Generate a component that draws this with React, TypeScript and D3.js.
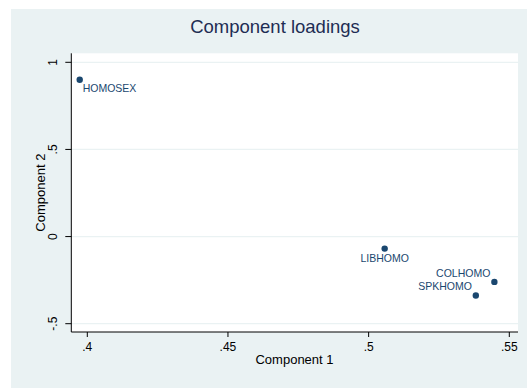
import React from "react";
import * as d3 from "d3";

// component loadings
const variables = ["HOMOSEX", "LIBHOMO", "COLHOMO", "SPKHOMO"];
const comp1 = [0.3973, 0.5057, 0.5447, 0.5381];
const comp2 = [0.9, -0.069, -0.26, -0.338];
// marker label clock positions (Stata mlabvposition)
const labelClock = [4, 6, 10, 10];

const xTicks = [0.4, 0.45, 0.5, 0.55];
const yTicks = [-0.5, 0, 0.5, 1];

const W = 527;
const H = 388;
const plot = { left: 71.3, right: 518, top: 53.3, bottom: 332 };

const navy = "#1a476f";
const bg = "#eaf2f3";
const font = "Liberation Sans, Arial, Helvetica, sans-serif";

const fmt = (v: number) => {
  if (v === 0) return "0";
  if (v === 1) return "1";
  const s = String(v);
  return s.replace(/^(-?)0\./, "$1.");
};

function labelOffset(clock: number) {
  // dx, dy (baseline), anchor
  if (clock === 4) return { dx: 3, dy: 12.6, anchor: "start" };
  if (clock === 6) return { dx: 0, dy: 13, anchor: "middle" };
  if (clock === 10) return { dx: -4, dy: -5.2, anchor: "end" };
  return { dx: 4, dy: 4, anchor: "start" };
}

export default function App() {
  const x = d3.scaleLinear().domain([0.4, 0.55]).range([87.3, 509.3]);
  const y = d3.scaleLinear().domain([-0.5, 1]).range([323.7, 62.3]);

  const points = variables.map((name, i) => ({
    name,
    cx: x(comp1[i]),
    cy: y(comp2[i]),
    pos: labelOffset(labelClock[i]),
  }));

  return (
    <svg
      width={W}
      height={H}
      style={{ position: "absolute", left: 0, top: 0, background: "#fff" }}
      fontFamily={font}
    >
      <rect x={11} y={9} width={W - 11} height={H - 9} fill={bg} />
      <rect
        x={plot.left}
        y={plot.top}
        width={plot.right - plot.left}
        height={plot.bottom - plot.top}
        fill="#fff"
      />

      {/* grid lines */}
      {yTicks.map((t) => (
        <line
          key={"g" + t}
          x1={plot.left}
          x2={plot.right}
          y1={y(t)}
          y2={y(t)}
          stroke={bg}
          strokeWidth={1.2}
        />
      ))}

      {/* axes */}
      <line x1={plot.left} x2={plot.left} y1={plot.top} y2={plot.bottom} stroke="#000" strokeWidth={1} />
      <line x1={plot.left} x2={plot.right} y1={plot.bottom} y2={plot.bottom} stroke="#000" strokeWidth={1} />

      {xTicks.map((t) => (
        <g key={"x" + t}>
          <line x1={x(t)} x2={x(t)} y1={plot.bottom} y2={plot.bottom + 5} stroke="#000" />
          <text x={x(t)} y={350.7} textAnchor="middle" fontSize={12} fill="#000">
            {fmt(t)}
          </text>
        </g>
      ))}

      {yTicks.map((t) => (
        <g key={"y" + t}>
          <line x1={plot.left - 6} x2={plot.left} y1={y(t)} y2={y(t)} stroke="#000" />
          <text
            transform={`translate(57,${y(t)}) rotate(-90)`}
            textAnchor="middle"
            fontSize={12}
            fill="#000"
          >
            {fmt(t)}
          </text>
        </g>
      ))}

      <text x={294.5} y={364.3} textAnchor="middle" fontSize={13} fill="#000">
        Component 1
      </text>
      <text
        transform={`translate(45,${(plot.top + plot.bottom) / 2}) rotate(-90)`}
        textAnchor="middle"
        fontSize={13}
        fill="#000"
      >
        Component 2
      </text>

      <text x={275} y={32.7} textAnchor="middle" fontSize={18.5} fill="#1e2d53">
        Component loadings
      </text>

      {points.map((p) => (
        <g key={p.name}>
          <circle cx={p.cx} cy={p.cy} r={3.2} fill={navy} />
          <text
            x={p.cx + p.pos.dx}
            y={p.cy + p.pos.dy}
            textAnchor={p.pos.anchor}
            fontSize={10.5}
            fill={navy}
          >
            {p.name}
          </text>
        </g>
      ))}
    </svg>
  );
}
